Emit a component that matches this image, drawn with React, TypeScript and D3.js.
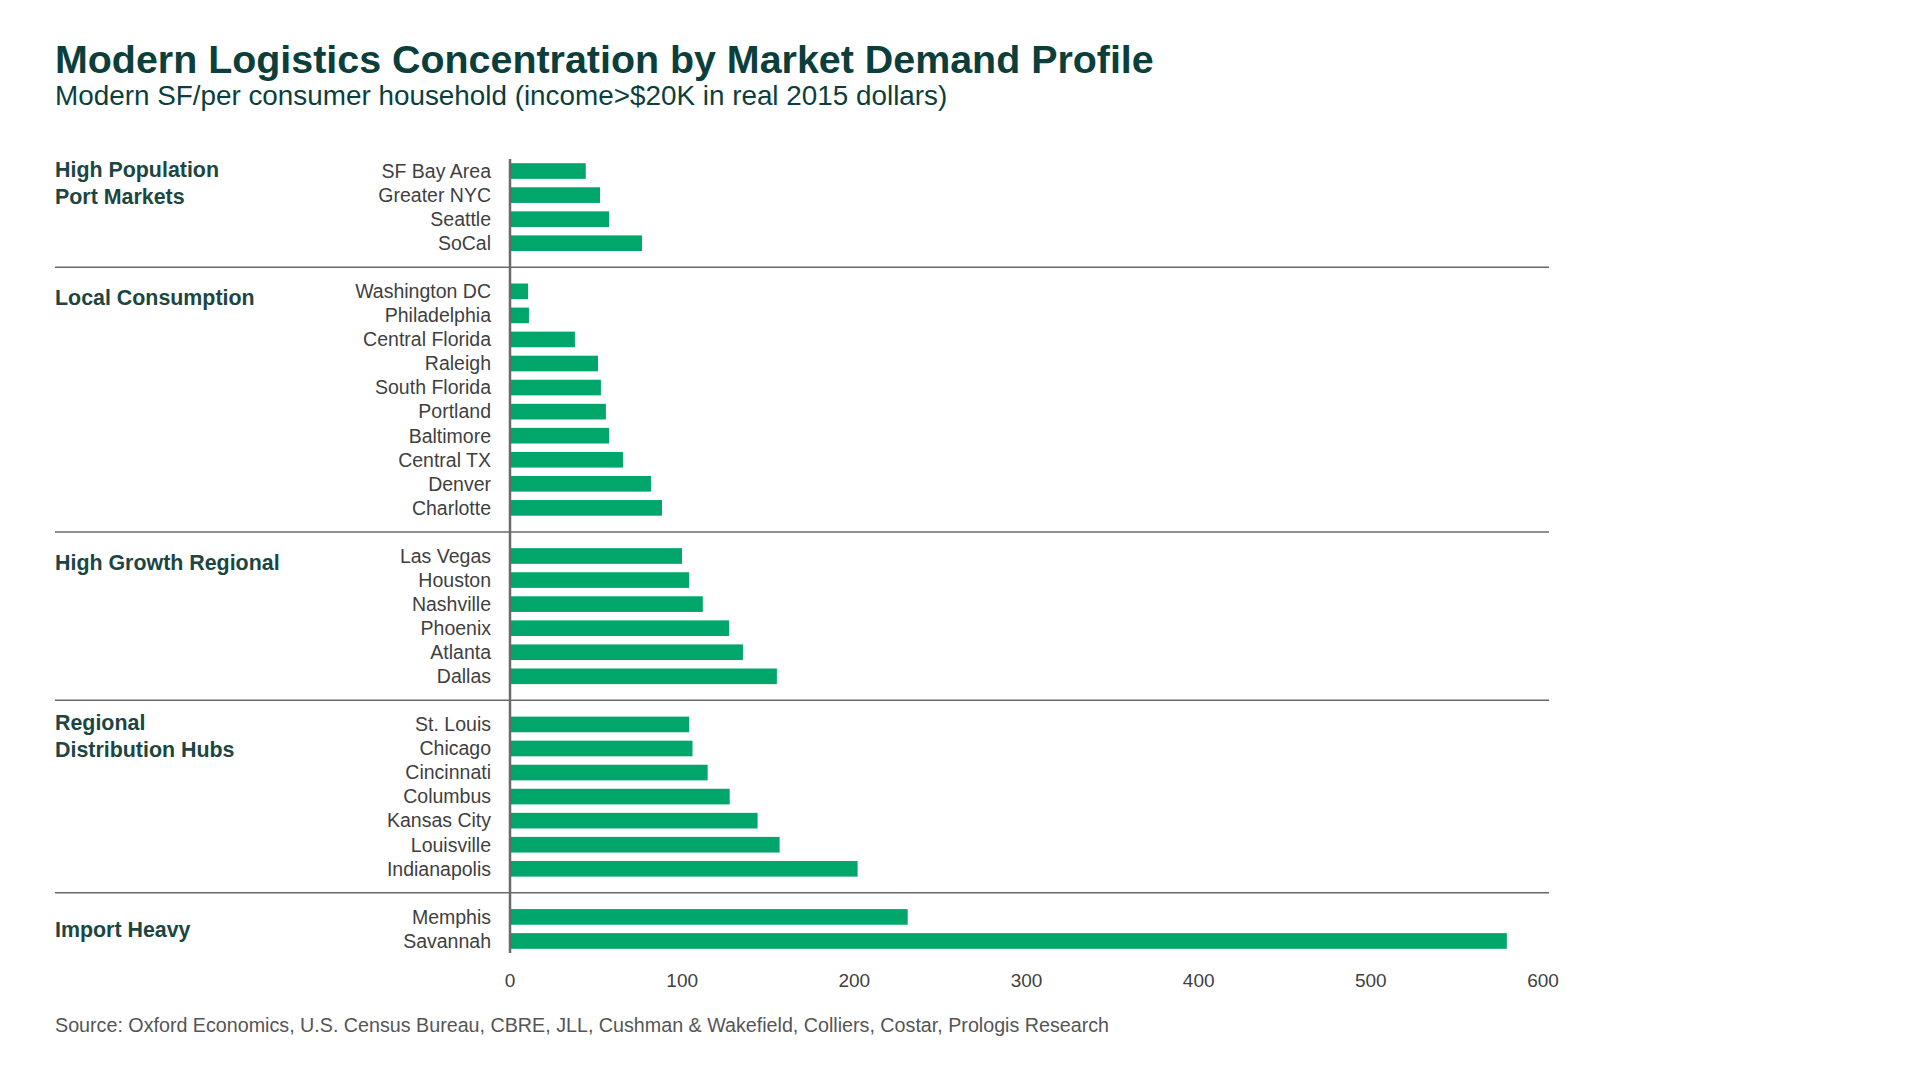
import React from "react";
import * as d3 from "d3";

// ---- Data ----
const groupNames = [
  "High Population|Port Markets",
  "Local Consumption",
  "High Growth Regional",
  "Regional|Distribution Hubs",
  "Import Heavy",
];

const highPopulationMarkets = ["SF Bay Area", "Greater NYC", "Seattle", "SoCal"];
const highPopulationValues = [44, 52.3, 57.5, 76.7];

const localConsumptionMarkets = [
  "Washington DC", "Philadelphia", "Central Florida", "Raleigh", "South Florida",
  "Portland", "Baltimore", "Central TX", "Denver", "Charlotte",
];
const localConsumptionValues = [10.5, 11, 37.7, 51.1, 52.8, 55.7, 57.5, 65.6, 81.9, 88.3];

const highGrowthMarkets = ["Las Vegas", "Houston", "Nashville", "Phoenix", "Atlanta", "Dallas"];
const highGrowthValues = [99.9, 104, 112, 127.2, 135.3, 155];

const regionalHubMarkets = [
  "St. Louis", "Chicago", "Cincinnati", "Columbus", "Kansas City", "Louisville", "Indianapolis",
];
const regionalHubValues = [104, 106, 114.8, 127.6, 143.8, 156.6, 201.9];

const importHeavyMarkets = ["Memphis", "Savannah"];
const importHeavyValues = [231, 579];

const xTicks = [0, 100, 200, 300, 400, 500, 600];

const titleText = "Modern Logistics Concentration by Market Demand Profile";
const subtitleText = "Modern SF/per consumer household (income>$20K in real 2015 dollars)";
const sourceText =
  "Source: Oxford Economics, U.S. Census Bureau, CBRE, JLL, Cushman & Wakefield, Colliers, Costar, Prologis Research";

// ---- Layout (not data) ----
const groupLabelShift = [0, 0.31, 0.33, 0, 0.58]; // in row steps

const W = 1920;
const H = 1080;
const FONT = "'Liberation Sans', Arial, Helvetica, sans-serif";
const GREEN = "#00A66A";
const TEAL = "#0C3F3C";
const LABEL = "#1B4642";
const GRAY_TEXT = "#3F3F3F";
const LINE = "#6A6A6A";

export default function App() {
  const groups = [
    { name: groupNames[0], markets: highPopulationMarkets, values: highPopulationValues },
    { name: groupNames[1], markets: localConsumptionMarkets, values: localConsumptionValues },
    { name: groupNames[2], markets: highGrowthMarkets, values: highGrowthValues },
    { name: groupNames[3], markets: regionalHubMarkets, values: regionalHubValues },
    { name: groupNames[4], markets: importHeavyMarkets, values: importHeavyValues },
  ];

  type Slot = { key: string; kind: "bar" | "sep"; market?: string; value?: number; group: number };
  const slots: Slot[] = [];
  groups.forEach((g, gi) => {
    if (gi > 0) slots.push({ key: `sep-${gi}`, kind: "sep", group: gi });
    g.markets.forEach((m, i) =>
      slots.push({ key: m, kind: "bar", market: m, value: g.values[i], group: gi })
    );
  });

  const plotTop = 159;
  const plotBottom = 953;
  const x0 = 510;
  const x1 = 1543;

  const y = d3
    .scaleBand<string>()
    .domain(slots.map((s) => s.key))
    .range([plotTop, plotBottom])
    .paddingInner(0.35)
    .paddingOuter(0.175);
  const x = d3.scaleLinear().domain([0, 600]).range([x0, x1]);
  const bw = y.bandwidth();
  const step = y.step();
  const yc = (k: string) => (y(k) as number) + bw / 2;

  return (
    <svg
      width={W}
      height={H}
      viewBox={`0 0 ${W} ${H}`}
      style={{ position: "absolute", left: 0, top: 0, background: "#fff", display: "block" }}
      fontFamily={FONT}
    >
      <rect x={0} y={0} width={W} height={H} fill="#fff" />
      <text x={55} y={73} fontSize={39.4} fontWeight={700} fill={TEAL}>
        {titleText}
      </text>
      <text x={55} y={105} fontSize={27.85} fill={TEAL}>
        {subtitleText}
      </text>

      {/* separators */}
      {slots
        .filter((s) => s.kind === "sep")
        .map((s) => (
          <line
            key={s.key}
            x1={55}
            x2={1549}
            y1={yc(s.key)}
            y2={yc(s.key)}
            stroke={LINE}
            strokeWidth={1.5}
          />
        ))}

      {/* bars */}
      {slots
        .filter((s) => s.kind === "bar")
        .map((s) => (
          <g key={s.key}>
            <rect
              x={x(0)}
              y={y(s.key)}
              width={x(s.value as number) - x(0)}
              height={bw}
              fill={GREEN}
            />
            <text
              x={x0 - 19}
              y={yc(s.key)}
              dy="0.35em"
              textAnchor="end"
              fontSize={19.5}
              fill={GRAY_TEXT}
            >
              {s.market}
            </text>
          </g>
        ))}

      {/* group labels */}
      {groups.map((g, gi) => {
        const first = g.markets[0];
        const base = yc(first) + groupLabelShift[gi] * step + 6;
        return (
          <text key={g.name} x={55} y={base} fontSize={21.4} fontWeight={700} fill={LABEL}>
            {g.name.split("|").map((ln, li) => (
              <tspan key={li} x={55} y={base + li * 27}>
                {ln}
              </tspan>
            ))}
          </text>
        );
      })}

      {/* axis line */}
      <line x1={x0} x2={x0} y1={plotTop} y2={plotBottom} stroke={LINE} strokeWidth={2.5} />

      {/* x tick labels */}
      {xTicks.map((t) => (
        <text key={t} x={x(t)} y={987} textAnchor="middle" fontSize={19} fill={GRAY_TEXT}>
          {t}
        </text>
      ))}

      <text x={55} y={1032} fontSize={19.7} fill="#555555">
        {sourceText}
      </text>
    </svg>
  );
}
